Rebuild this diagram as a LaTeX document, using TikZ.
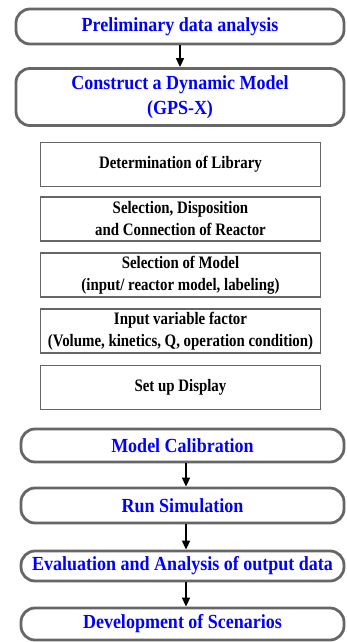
\documentclass[tikz,border=0pt]{standalone}
\usepackage{fontspec}
\setmainfont{Liberation Serif}
\newfontfamily\titlefont[FakeStretch=0.9]{Liberation Serif}
\newfontfamily\stepfont[FakeStretch=0.85]{Liberation Serif}
\usetikzlibrary{positioning,arrows.meta}

\begin{document}
\begin{tikzpicture}[
  x=1pt, y=-1pt,
  >={Triangle[length=9pt,width=8pt]},
  % rounded stages of the procedure (blue titles)
  stage/.style={
    draw=black!60, line width=2.8pt, rounded corners=14pt,
    fill=white, align=center, inner sep=0pt,
    text=blue, font=\titlefont\fontsize{20}{25}\selectfont\bfseries
  },
  % sub-steps of building the model
  task/.style={
    draw=black!60, line width=1.3pt, align=center, inner sep=0pt,
    minimum width=280pt, minimum height=44pt,
    font=\stepfont\fontsize{17.5}{22}\selectfont\bfseries
  },
  flow/.style={->, line width=1.6pt}
]
\useasboundingbox (0,0) rectangle (346,642);

% ---------- Model construction ----------
\node[stage, minimum width=328pt, minimum height=35pt] (prelim) at (180,26.5)
     {Preliminary data analysis};
\node[stage, minimum width=328pt, minimum height=57pt] (build) at (180,97)
     {Construct a Dynamic Model\\(GPS-X)};

% ---------- GPS-X sub-steps ----------
\node[task] (lib)   at (180.5,164.5) {Determination of Library};
\node[task] (react) at (180.5,219)   {Selection, Disposition\\and Connection of Reactor};
\node[task] (model) at (180.5,275)   {Selection of Model\\(input/ reactor model, labeling)};
\node[task] (input) at (180.5,331)   {Input variable factor\\(Volume, kinetics, Q, operation condition)};
\node[task] (disp)  at (180.5,387.5) {Set up Display};

% ---------- Calibration and scenarios ----------
\node[stage, minimum width=323pt, minimum height=33pt] (calib) at (182.5,445.5)
     {Model Calibration};
\node[stage, minimum width=323pt, minimum height=35pt] (run)   at (182.5,505.5)
     {Run Simulation};
\node[stage, minimum width=323pt, minimum height=30pt] (eval)  at (182.5,566)
     {Evaluation and Analysis of output data};
\node[stage, minimum width=323pt, minimum height=32pt] (scen)  at (182.5,624)
     {Development of Scenarios};

% ---------- Arrows ----------
\draw[flow] (prelim) -- (build);
\draw[flow] ([xshift=3.5pt]calib.south) -- ([xshift=3.5pt]run.north);
\draw[flow] ([xshift=3.5pt]run.south)   -- ([xshift=3.5pt]eval.north);
\draw[flow] ([xshift=3.5pt]eval.south)  -- ([xshift=3.5pt]scen.north);

\end{tikzpicture}
\end{document}
